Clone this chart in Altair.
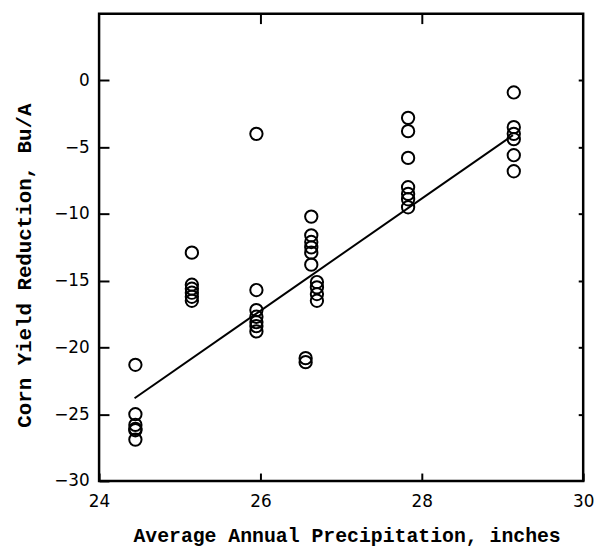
import altair as alt
import pandas as pd

# Precipitation (x) for each county group and corresponding yield reductions (y)
group_x = [24.45, 25.15, 25.95, 26.56, 26.63, 26.70, 27.83, 29.14]
group_y = [
    [-21.3, -25.0, -25.8, -26.1, -26.2, -26.9],
    [-12.9, -15.3, -15.6, -15.9, -16.2, -16.5],
    [-4.0, -15.7, -17.2, -17.7, -18.1, -18.4, -18.8],
    [-20.8, -21.1],
    [-10.2, -11.6, -12.1, -12.5, -12.9, -13.8],
    [-15.1, -15.5, -16.0, -16.5],
    [-2.8, -3.8, -5.8, -8.0, -8.5, -8.9, -9.5],
    [-0.9, -3.5, -4.0, -4.4, -5.6, -6.8],
]
fit_x = [24.44, 29.13]
fit_y = [-23.8, -4.1]
x_ticks = [24, 26, 28, 30]
y_ticks = [-30, -25, -20, -15, -10, -5, 0]
x_inner_ticks = [26, 28]
y_inner_ticks = [-25, -20, -15, -10, -5, 0]

rows = []
for gx, ys in zip(group_x, group_y):
    for yv in ys:
        rows.append({"x": gx, "y": yv})
pts = pd.DataFrame(rows)
fit = pd.DataFrame({"x": fit_x, "y": fit_y})

W, H = 489, 472
xscale = alt.Scale(domain=[24, 30], nice=False, zero=False)
yscale = alt.Scale(domain=[-30, 5], nice=False, zero=False)

xaxis = alt.Axis(orient="bottom", values=x_ticks, format="d", domain=False, grid=False,
                 ticks=True, tickSize=8, tickWidth=2, tickColor="black", offset=-8,
                 labelFont="DejaVu Sans", labelFontSize=17, labelColor="black",
                 labelPadding=13, labelFlush=False,
                 title="Average Annual Precipitation, inches",
                 titleFont="Liberation Mono", titleFontWeight="bold", titleFontSize=20,
                 titleColor="black", titleX=250, titleY=63, titleBaseline="middle")
yaxis = alt.Axis(orient="left", values=y_ticks, format="d", domain=False, grid=False,
                 ticks=True, tickSize=10, tickWidth=2, tickColor="black", offset=-10,
                 labelFont="DejaVu Sans", labelFontSize=17, labelColor="black",
                 labelPadding=10, labelFlush=False,
                 title="Corn Yield Reduction, Bu/A",
                 titleFont="Liberation Mono", titleFontWeight="bold", titleFontSize=21,
                 titleColor="black", titleX=-85, titleY=254, titleBaseline="middle")

xaxis_top = alt.Axis(orient="top", values=x_inner_ticks, domain=False, grid=False,
                     ticks=True, tickSize=10, tickWidth=2, tickColor="black", offset=-10,
                     labels=False, title=None)
yaxis_right = alt.Axis(orient="right", values=y_inner_ticks, domain=False, grid=False,
                       ticks=True, tickSize=5, tickWidth=2, tickColor="black", offset=-5,
                       labels=False, title=None)

points = alt.Chart(pts).mark_point(shape="circle", filled=False, color="black",
                                   size=155, strokeWidth=2, opacity=1).encode(
    x=alt.X("x:Q", scale=xscale, axis=xaxis),
    y=alt.Y("y:Q", scale=yscale, axis=yaxis),
)

line = alt.Chart(fit).mark_line(color="black", strokeWidth=2).encode(
    x=alt.X("x:Q", scale=xscale, axis=xaxis_top),
    y=alt.Y("y:Q", scale=yscale, axis=yaxis_right),
)

chart = alt.layer(points, line).resolve_axis(x="independent", y="independent").properties(
    width=W, height=H,
    autosize=alt.AutoSizeParams(type="none"),
    padding={"left": 92, "top": 3, "right": 18, "bottom": 68},
    background="white",
).configure_view(stroke="black", strokeWidth=2.5)

chart.save("out.html", embed_options={"renderer": "svg", "actions": False})
